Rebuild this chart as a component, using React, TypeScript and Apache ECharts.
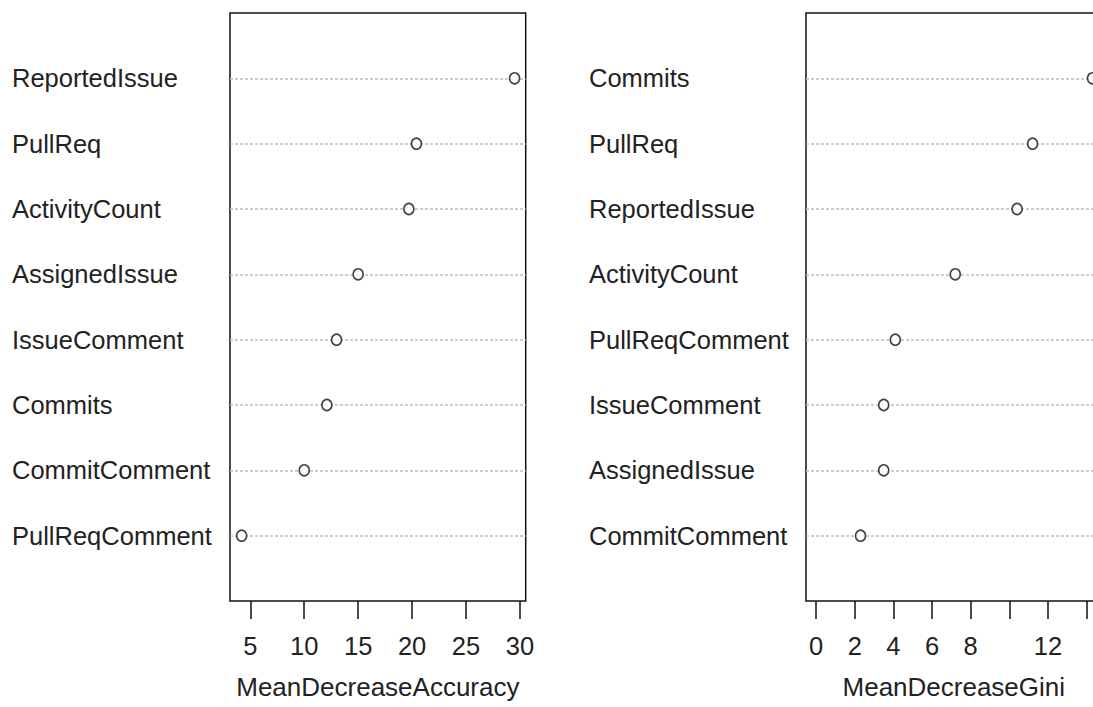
import React, { useEffect, useRef } from "react";
import * as echarts from "echarts";

const accCategories = ["ReportedIssue", "PullReq", "ActivityCount", "AssignedIssue", "IssueComment", "Commits", "CommitComment", "PullReqComment"];
const accValues = [29.5, 20.4, 19.7, 15.0, 13.0, 12.1, 10.0, 4.2];
const giniCategories = ["Commits", "PullReq", "ReportedIssue", "ActivityCount", "PullReqComment", "IssueComment", "AssignedIssue", "CommitComment"];
const giniValues = [14.3, 11.2, 10.4, 7.2, 4.1, 3.5, 3.5, 2.3];
const accTicks = [5, 10, 15, 20, 25, 30];
const accTickLabels = [5, 10, 15, 20, 25, 30];
const giniTicks = [0, 2, 4, 6, 8, 10, 12, 14];
const giniTickLabels = [0, 2, 4, 6, 8, 12];

const FONT = "Liberation Sans";
const FS = 25.5;
const TXT = "#222";

export default function App() {
  const ref = useRef<HTMLDivElement>(null);
  useEffect(() => {
    if (!ref.current) return;
    const chart = echarts.init(ref.current, undefined, { renderer: "svg" });
    const padCats = (c: string[]) => [" ", ...c, "  "];
    const yAxisBase = (cats: string[], margin: number, idx: number) => ({
      type: "category",
      gridIndex: idx,
      data: padCats(cats),
      inverse: true,
      boundaryGap: false,
      axisLine: { show: false },
      axisTick: { show: false },
      axisLabel: {
        interval: 0,
        align: "left",
        margin,
        fontFamily: FONT,
        fontSize: FS,
        color: TXT,
      },
      splitLine: {
        show: true,
        interval: (_i: number, v: string) => v.trim() !== "",
        lineStyle: { color: "#bdbdbd", type: [3, 2], width: 1.5 },
      },
    });
    const xAxisBase = (idx: number, min: number, max: number, ticks: number[], labels: number[], name: string) => ({
      type: "value",
      gridIndex: idx,
      min,
      max,
      axisLine: { show: false },
      splitLine: { show: false },
      axisTick: {
        show: true,
        length: 18,
        customValues: ticks,
        lineStyle: { color: "#111", width: 1.5 },
      },
      axisLabel: {
        customValues: labels,
        margin: 32,
        fontFamily: FONT,
        fontSize: FS,
        color: TXT,
      },
      name,
      nameLocation: "middle",
      nameGap: 73,
      nameTextStyle: { fontFamily: FONT, fontSize: 26, color: TXT },
    });
    const symStyle = { color: "#fff", borderColor: "#111", borderWidth: 1.6 };
    chart.setOption({
      animation: false,
      backgroundColor: "#fff",
      grid: [
        { left: 230, top: 11, width: 295.7, height: 590, show: true, borderColor: "#111", borderWidth: 1.5, backgroundColor: "transparent" },
        { left: 806, top: 11, width: 295.6, height: 590, show: true, borderColor: "#111", borderWidth: 1.5, backgroundColor: "transparent" },
      ],
      xAxis: [
        xAxisBase(0, 3.12, 30.53, accTicks, accTickLabels, "MeanDecreaseAccuracy"),
        xAxisBase(1, -0.52, 14.77, giniTicks, giniTickLabels, "MeanDecreaseGini"),
      ],
      yAxis: [yAxisBase(accCategories, 218, 0), yAxisBase(giniCategories, 217, 1)],
      series: [
        {
          type: "scatter",
          xAxisIndex: 0,
          yAxisIndex: 0,
          symbol: "circle",
          symbolSize: [10, 11],
          itemStyle: symStyle,
          data: accCategories.map((c, i) => [accValues[i], c]),
        },
        {
          type: "scatter",
          xAxisIndex: 1,
          yAxisIndex: 1,
          symbol: "circle",
          symbolSize: [10, 11],
          itemStyle: symStyle,
          data: giniCategories.map((c, i) => [giniValues[i], c]),
        },
      ],
    });
    return () => chart.dispose();
  }, []);
  return (
    <div style={{ position: "fixed", left: 0, top: 0, width: 1093, height: 707, overflow: "hidden", background: "#fff" }}>
      <div ref={ref} style={{ position: "absolute", left: 0, top: 0, width: 1110, height: 707 }} />
    </div>
  );
}
